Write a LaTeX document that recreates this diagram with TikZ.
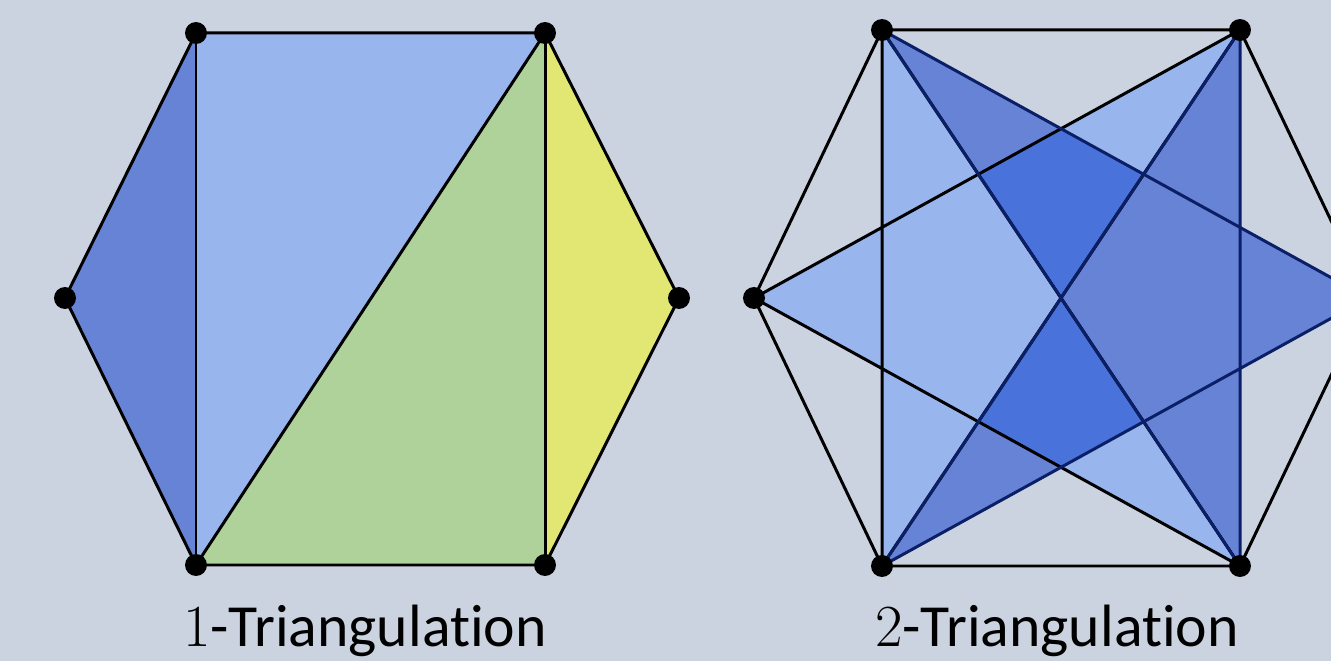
\documentclass[tikz,border=0pt]{standalone}
\usepackage{fontspec}
\setmainfont[Ligatures=NoCommon]{Carlito}
\newfontfamily\numfont{Latin Modern Roman}
\definecolor{bg}{HTML}{CBD3E0}
\definecolor{midblue}{HTML}{6783D6}
\definecolor{lightblue}{HTML}{98B5EE}
\definecolor{greenf}{HTML}{AFD19A}
\definecolor{yellowf}{HTML}{E2E673}
\definecolor{overlap}{HTML}{4A72DB}
\definecolor{navy}{HTML}{0B1F66}
\begin{document}
\begin{tikzpicture}[x=0.02cm,y=-0.02cm,
  edge/.style={line width=1.7pt,black,line join=round},
  nedge/.style={line width=1.7pt,navy,line join=round},
  vdot/.style={circle,fill=black,inner sep=0pt,minimum size=12.5pt},
  lbl/.style={font=\fontsize{34}{40}\selectfont,anchor=base,inner sep=0pt}]
\fill[bg] (0,0) rectangle (1331,661);
\useasboundingbox (0,0) rectangle (1331,661);
\clip (0,0) rectangle (1331,661);
% ---------- left hexagon ----------
\coordinate (a1) at (196,33);
\coordinate (b1) at (545,33);
\coordinate (c1) at (679,298);
\coordinate (d1) at (545,565);
\coordinate (e1) at (196,565);
\coordinate (f1) at (65,298);
\fill[midblue] (f1) -- (a1) -- (e1) -- cycle;
\fill[lightblue] (a1) -- (b1) -- (e1) -- cycle;
\fill[greenf] (b1) -- (d1) -- (e1) -- cycle;
\fill[yellowf] (b1) -- (c1) -- (d1) -- cycle;
\draw[edge] (a1) -- (b1) -- (c1) -- (d1) -- (e1) -- (f1) -- cycle;
\draw[edge] (a1) -- (e1);
\draw[edge] (b1) -- (e1);
\draw[edge] (b1) -- (d1);
\foreach \p in {a1,b1,c1,d1,e1,f1} \node[vdot] (n\p) at (\p) {};
\node[lbl] (t1) at (365,646) {{\numfont 1}-Triangulation};
% ---------- right hexagon ----------
\coordinate (a2) at (882,30);
\coordinate (b2) at (1240,30);
\coordinate (c2) at (1368,298);
\coordinate (d2) at (1240,566);
\coordinate (e2) at (882,566);
\coordinate (f2) at (754,298);
% star 1 on F,A,B,D,E and star 2 on A,B,C,D,E
\fill[lightblue] (f2) -- (b2) -- (e2) -- (a2) -- (d2) -- cycle;
\fill[midblue] (a2) -- (c2) -- (e2) -- (b2) -- (d2) -- cycle;
\begin{scope}
  \clip (f2) -- (b2) -- (e2) -- (a2) -- (d2) -- cycle;
  \fill[overlap] (a2) -- (c2) -- (e2) -- (b2) -- (d2) -- cycle;
\end{scope}
\draw[edge] (a2) -- (b2) -- (c2) -- (d2) -- (e2) -- (f2) -- cycle;
\draw[edge] (f2) -- (b2) -- (e2) -- (a2) -- (d2) -- cycle;
\draw[nedge] (a2) -- (c2) -- (e2) -- (b2) -- (d2) -- cycle;
\foreach \p in {a2,b2,d2,e2,f2} \node[vdot] (n\p) at (\p) {};
\node[lbl] (t2) at (1057,646) {{\numfont 2}-Triangulation};
\end{tikzpicture}
\end{document}
